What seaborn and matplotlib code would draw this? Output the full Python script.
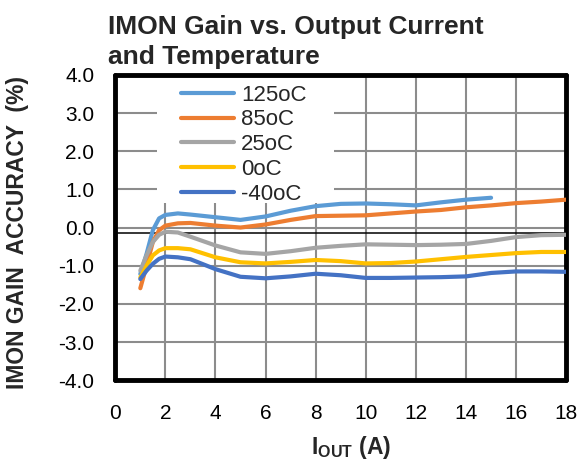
import numpy as np
import pandas as pd
import matplotlib
matplotlib.use('Agg')
import matplotlib.pyplot as plt
from matplotlib.patches import Rectangle
import seaborn as sns

# IMON gain accuracy (%) vs output current (A)
x_pts = [1, 1.25, 1.5, 1.75, 2, 2.5, 3, 4, 5, 6, 7, 8, 9, 10, 11, 12, 13, 14, 15, 16, 17, 18]
acc_125 = [-1.22, -0.69, -0.07, 0.24, 0.33, 0.37, 0.34, 0.27, 0.20, 0.29, 0.44, 0.56, 0.62, 0.63,
           0.61, 0.58, 0.66, 0.73, 0.78]
acc_85 = [-1.59, -1.00, -0.38, -0.07, 0.05, 0.11, 0.12, 0.05, 0.00, 0.08, 0.20, 0.30, 0.31, 0.32,
          0.37, 0.42, 0.46, 0.53, 0.58, 0.64, 0.68, 0.73]
acc_25 = [-1.13, -0.73, -0.38, -0.19, -0.11, -0.13, -0.24, -0.47, -0.65, -0.69, -0.62, -0.53, -0.48,
          -0.44, -0.45, -0.46, -0.45, -0.43, -0.35, -0.25, -0.20, -0.19]
acc_0 = [-1.31, -1.00, -0.73, -0.60, -0.54, -0.54, -0.57, -0.78, -0.91, -0.94, -0.90, -0.85, -0.88,
         -0.94, -0.93, -0.89, -0.83, -0.77, -0.72, -0.67, -0.64, -0.64]
acc_m40 = [-1.35, -1.13, -0.95, -0.82, -0.76, -0.78, -0.83, -1.09, -1.29, -1.33, -1.28, -1.21, -1.25,
           -1.32, -1.32, -1.31, -1.30, -1.28, -1.19, -1.15, -1.15, -1.16]

temps = ['125oC', '85oC', '25oC', '0oC', '-40oC']
colors = ['#5B9BD5', '#ED7D31', '#A5A5A5', '#FFC000', '#4472C4']
x_ticks = list(range(0, 19, 2))
y_ticks = list(range(-4, 5))

series = [acc_125, acc_85, acc_25, acc_0, acc_m40]
frames = []
for name, vals in zip(temps, series):
    frames.append(pd.DataFrame({'iout': x_pts[:len(vals)], 'acc': vals, 'temp': name}))
df = pd.concat(frames, ignore_index=True)

sns.set_style('white')
plt.rcParams['font.family'] = ['Liberation Sans', 'DejaVu Sans']
plt.rcParams['mathtext.fontset'] = 'custom'
plt.rcParams['mathtext.rm'] = 'Liberation Sans'
plt.rcParams['mathtext.bf'] = 'Liberation Sans:bold'

fig = plt.figure(figsize=(5.88, 4.62), dpi=100)
ax = fig.add_axes([0.196, 0.177, 0.767, 0.661])

sns.lineplot(data=df, x='iout', y='acc', hue='temp', hue_order=temps,
             palette=dict(zip(temps, colors)), linewidth=3, ax=ax, zorder=3)

ax.set_xlim(0, 18)
ax.set_ylim(-4, 4)
ax.set_xticks(x_ticks)
ax.set_yticks(y_ticks)
ax.set_yticklabels([f'{v:.1f}' for v in y_ticks])
ax.tick_params(axis='both', length=0, labelsize=15, colors='black')
ax.tick_params(axis='x', pad=17)
ax.tick_params(axis='y', pad=15)
ax.set_axisbelow(True)
ax.grid(True, color='#8c8c8c', linewidth=1.5)
ax.axhline(-0.15, color='black', linewidth=1.1, zorder=2)
for sp in ax.spines.values():
    sp.set_visible(True)
    sp.set_color('black')
    sp.set_linewidth(3.5)
    sp.set_capstyle('round')
ax.set_xlabel('')
ax.set_ylabel('')

# white legend box over the grid
ax.add_patch(Rectangle((0.093, 0.58), 0.393, 0.42, transform=ax.transAxes,
                       facecolor='white', edgecolor='none', zorder=1.5))
handles, labels = ax.get_legend_handles_labels()
for h in handles:
    h.set_linewidth(3)
ax.legend(handles, labels, loc='upper left', bbox_to_anchor=(0.146, 0.968),
          frameon=False, fontsize=16, handlelength=2.4, handletextpad=0.3,
          labelspacing=0.17, borderpad=0, borderaxespad=0)

fig.text(0.184, 0.967, 'IMON Gain vs. Output Current\nand Temperature', ha='left', va='top',
         fontsize=19, fontweight='bold', linespacing=1.32)
fig.text(0.03, 0.496, 'IMON GAIN  ACCURACY  (%)', rotation=90, ha='center', va='center',
         fontsize=16.5, fontweight='bold')
fig.text(0.597, 0.032, r'$\mathbf{I}_{\mathbf{OUT}}$ (A)', ha='center', va='center',
         fontsize=16.5, fontweight='bold')

fig.savefig('out.png', dpi=100)
